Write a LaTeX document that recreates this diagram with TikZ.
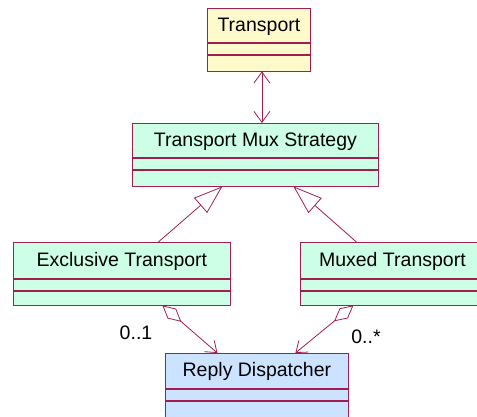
\documentclass[tikz,border=0pt]{standalone}
\usepackage{fontspec}
\setmainfont{Liberation Sans}
\usepackage{xcolor}
\definecolor{umlred}{HTML}{A01E50}
\definecolor{umlyellow}{HTML}{FFFACC}
\definecolor{umlmint}{HTML}{CCFFE6}
\definecolor{umlblue}{HTML}{CCE3FF}
\usetikzlibrary{arrows.meta,positioning}

\begin{document}
\begin{tikzpicture}[x=1pt,y=-1pt,line width=0.8pt,font=\fontsize{19.5}{21}\selectfont]
              \tikzstyle{cname}=[rectangle,draw=umlred,anchor=north west,inner sep=0pt,minimum height=34pt,text depth=2pt]
              \tikzstyle{cpart}=[rectangle,draw=umlred,inner sep=0pt,below=0pt of #1]
              \tikzstyle{nav}=[draw=umlred,<->,>={Straight Barb[length=11pt,width=16pt]}]
              \tikzstyle{gen}=[draw=umlred,-{Triangle[open,length=29pt,width=20pt]}]
              \tikzstyle{agg}=[draw=umlred,{Diamond[open,length=25pt,width=13pt]}-{Straight Barb[length=10pt,width=15pt]}]

              \useasboundingbox (0,0) rectangle (477,416);

              % classes
              \node[cname,fill=umlyellow,minimum width=103pt] (T) at (207,8) {Transport};
              \node[cpart=T,fill=umlyellow,minimum width=103pt,minimum height=11pt] (T1) {};
              \node[cpart=T1,fill=umlyellow,minimum width=103pt,minimum height=16pt] (T2) {};

              \node[cname,fill=umlmint,minimum width=246pt] (S) at (132,123) {Transport Mux Strategy};
              \node[cpart=S,fill=umlmint,minimum width=246pt,minimum height=11pt] (S1) {};
              \node[cpart=S1,fill=umlmint,minimum width=246pt,minimum height=16pt] (S2) {};

              \node[cname,fill=umlmint,minimum width=217pt,minimum height=36pt] (E) at (13,242) {Exclusive Transport};
              \node[cpart=E,fill=umlmint,minimum width=217pt,minimum height=11pt] (E1) {};
              \node[cpart=E1,fill=umlmint,minimum width=217pt,minimum height=14pt] (E2) {};

              \node[cname,fill=umlmint,minimum width=190pt,minimum height=36pt] (M) at (300,242) {\hspace*{-6pt}Muxed Transport};
              \node[cpart=M,fill=umlmint,minimum width=190pt,minimum height=11pt] (M1) {};
              \node[cpart=M1,fill=umlmint,minimum width=190pt,minimum height=14pt] (M2) {};

              \node[cname,fill=umlblue,minimum width=183pt,minimum height=35pt] (R) at (165,353) {Reply Dispatcher};
              \node[cpart=R,fill=umlblue,minimum width=183pt,minimum height=11pt] (R1) {};
              \node[cpart=R1,fill=umlblue,minimum width=183pt,minimum height=16pt] (R2) {};

              % relations
              \draw[nav] ([xshift=3pt]T2.south) -- ([xshift=3pt]T2.south |- S.north);
              \draw[gen] ([xshift=36.5pt]E.north) -- ([xshift=-33pt]S2.south);
              \draw[gen] ([xshift=-39pt]M.north) -- ([xshift=38pt]S2.south);
              \draw[agg] ([xshift=40.5pt]E2.south) -- ([xshift=-39.5pt]R.north);
              \draw[agg] ([xshift=-42pt]M2.south) -- ([xshift=38.5pt]R.north);

              % multiplicities
              \node (L1) at (136,333) {0..1};
              \node (L2) at (366,337) {0..*};
       \end{tikzpicture}
\end{document}
